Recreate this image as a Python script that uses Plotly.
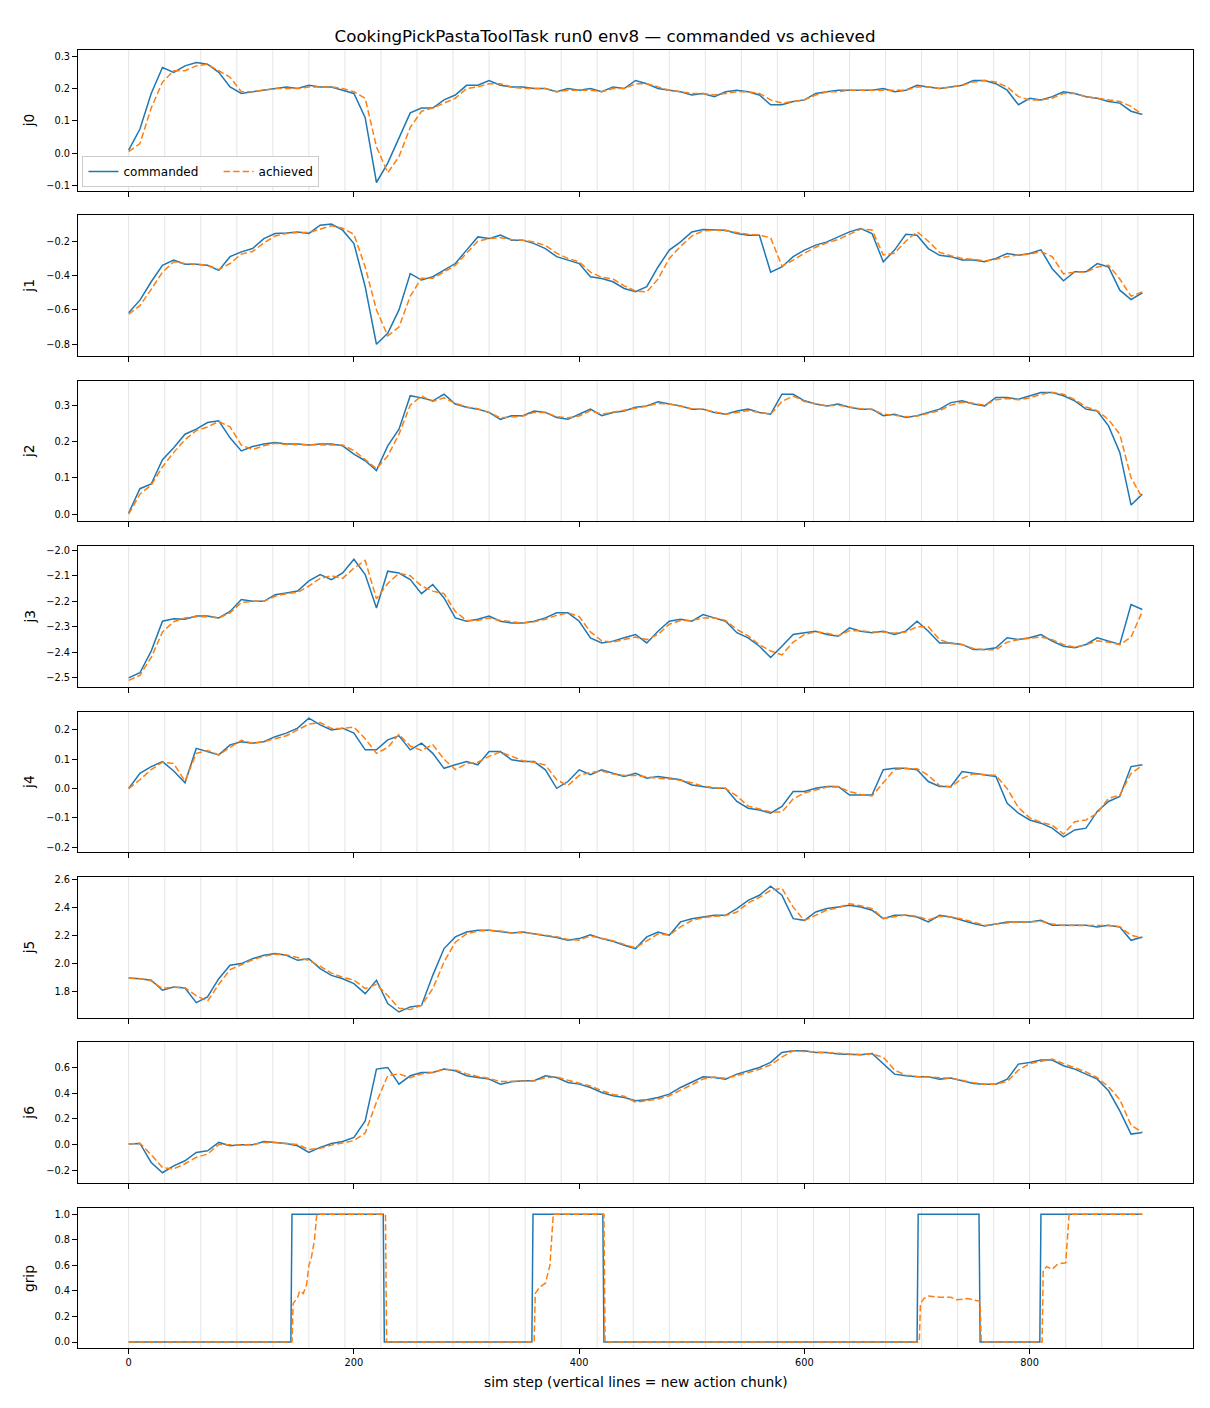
import plotly.graph_objects as go

# ---------------- data ----------------
steps = list(range(0, 901, 10))
chunk_starts = list(range(0, 897, 32))
joint_names = ["j0", "j1", "j2", "j3", "j4", "j5", "j6"]

j0_cmd = [0.01,0.075,0.185,0.265,0.25,0.27,0.28,0.275,0.25,0.205,
          0.185,0.19,0.195,0.20,0.205,0.20,0.21,0.205,0.205,0.195,
          0.185,0.11,-0.09,-0.03,0.05,0.125,0.14,0.14,0.165,0.18,
          0.21,0.21,0.225,0.21,0.205,0.205,0.2,0.2,0.19,0.2,
          0.195,0.2,0.19,0.205,0.2,0.225,0.215,0.2,0.195,0.19,
          0.18,0.185,0.175,0.19,0.195,0.19,0.18,0.15,0.15,0.16,
          0.165,0.185,0.19,0.195,0.195,0.195,0.195,0.2,0.19,0.195,
          0.21,0.205,0.2,0.205,0.21,0.225,0.225,0.215,0.195,0.15,
          0.17,0.165,0.175,0.19,0.185,0.175,0.17,0.16,0.155,0.13,
          0.12]
j0_ach = [0.005,0.03,0.14,0.22,0.255,0.255,0.27,0.275,0.255,0.235,
          0.19,0.19,0.195,0.2,0.2,0.2,0.205,0.205,0.205,0.2,
          0.19,0.17,0.02,-0.06,-0.01,0.08,0.13,0.14,0.155,0.17,
          0.2,0.205,0.215,0.215,0.205,0.2,0.2,0.2,0.19,0.195,
          0.195,0.195,0.19,0.2,0.2,0.215,0.215,0.205,0.195,0.19,
          0.185,0.185,0.18,0.185,0.19,0.19,0.185,0.165,0.155,0.16,
          0.165,0.18,0.19,0.19,0.195,0.195,0.195,0.195,0.195,0.195,
          0.205,0.205,0.2,0.205,0.21,0.22,0.225,0.22,0.205,0.175,
          0.165,0.165,0.17,0.185,0.185,0.175,0.17,0.165,0.16,0.145,
          0.12]

j1_cmd = [-0.616,-0.543,-0.436,-0.34,-0.31,-0.334,-0.334,-0.34,-0.37,-0.29,
          -0.262,-0.243,-0.185,-0.155,-0.152,-0.146,-0.155,-0.107,-0.1,-0.136,
          -0.214,-0.465,-0.80,-0.736,-0.60,-0.388,-0.426,-0.407,-0.368,-0.33,
          -0.252,-0.175,-0.185,-0.165,-0.194,-0.194,-0.214,-0.243,-0.29,-0.31,
          -0.33,-0.407,-0.417,-0.436,-0.475,-0.494,-0.465,-0.35,-0.252,-0.204,
          -0.146,-0.132,-0.136,-0.136,-0.155,-0.165,-0.165,-0.38,-0.35,-0.29,
          -0.252,-0.223,-0.204,-0.175,-0.146,-0.126,-0.155,-0.32,-0.252,-0.16,
          -0.165,-0.243,-0.282,-0.29,-0.31,-0.31,-0.32,-0.30,-0.272,-0.282,
          -0.272,-0.25,-0.36,-0.43,-0.378,-0.378,-0.33,-0.35,-0.485,-0.54,
          -0.50]
j1_ach = [-0.625,-0.575,-0.48,-0.38,-0.32,-0.33,-0.335,-0.34,-0.365,-0.33,
          -0.275,-0.26,-0.21,-0.17,-0.155,-0.15,-0.15,-0.13,-0.11,-0.125,
          -0.16,-0.35,-0.60,-0.75,-0.70,-0.52,-0.415,-0.415,-0.38,-0.34,
          -0.27,-0.2,-0.185,-0.18,-0.19,-0.195,-0.205,-0.225,-0.27,-0.3,
          -0.32,-0.38,-0.41,-0.42,-0.46,-0.49,-0.495,-0.42,-0.3,-0.23,
          -0.17,-0.14,-0.135,-0.14,-0.15,-0.16,-0.165,-0.18,-0.345,-0.31,
          -0.27,-0.235,-0.21,-0.19,-0.16,-0.13,-0.135,-0.28,-0.27,-0.2,
          -0.145,-0.2,-0.265,-0.285,-0.3,-0.305,-0.315,-0.305,-0.29,-0.28,
          -0.275,-0.26,-0.29,-0.39,-0.38,-0.38,-0.35,-0.34,-0.42,-0.52,
          -0.495]

j2_cmd = [0.003,0.07,0.083,0.15,0.183,0.22,0.234,0.252,0.257,0.21,
          0.174,0.186,0.193,0.197,0.193,0.193,0.19,0.193,0.193,0.188,
          0.165,0.147,0.12,0.188,0.234,0.326,0.32,0.312,0.33,0.303,
          0.294,0.289,0.28,0.261,0.271,0.271,0.284,0.28,0.266,0.261,
          0.275,0.289,0.271,0.28,0.284,0.294,0.298,0.309,0.303,0.298,
          0.289,0.289,0.28,0.275,0.284,0.289,0.28,0.275,0.33,0.33,
          0.312,0.303,0.298,0.303,0.294,0.289,0.289,0.271,0.275,0.266,
          0.271,0.28,0.289,0.307,0.312,0.303,0.298,0.321,0.321,0.316,
          0.326,0.335,0.335,0.326,0.312,0.289,0.284,0.243,0.17,0.025,
          0.055]
j2_ach = [0.0,0.055,0.08,0.13,0.17,0.205,0.23,0.24,0.255,0.24,
          0.19,0.178,0.188,0.195,0.192,0.192,0.19,0.192,0.192,0.19,
          0.175,0.15,0.125,0.16,0.22,0.30,0.325,0.31,0.32,0.305,
          0.295,0.29,0.28,0.265,0.268,0.27,0.28,0.28,0.268,0.265,
          0.27,0.285,0.275,0.28,0.285,0.29,0.297,0.305,0.303,0.297,
          0.29,0.288,0.282,0.275,0.28,0.285,0.28,0.275,0.31,0.325,
          0.31,0.303,0.298,0.3,0.295,0.29,0.288,0.275,0.272,0.268,
          0.27,0.278,0.285,0.3,0.308,0.305,0.3,0.315,0.318,0.315,
          0.32,0.33,0.335,0.33,0.315,0.295,0.285,0.26,0.22,0.1,
          0.045]

j3_cmd = [-2.50,-2.48,-2.395,-2.278,-2.268,-2.27,-2.258,-2.258,-2.265,-2.24,
          -2.193,-2.20,-2.20,-2.174,-2.167,-2.16,-2.12,-2.095,-2.115,-2.089,
          -2.035,-2.095,-2.226,-2.082,-2.089,-2.115,-2.17,-2.134,-2.187,-2.265,
          -2.278,-2.27,-2.258,-2.278,-2.285,-2.285,-2.278,-2.265,-2.245,-2.245,
          -2.278,-2.343,-2.363,-2.356,-2.343,-2.33,-2.363,-2.317,-2.278,-2.27,
          -2.278,-2.252,-2.265,-2.278,-2.323,-2.343,-2.376,-2.42,-2.376,-2.33,
          -2.323,-2.317,-2.33,-2.337,-2.304,-2.317,-2.323,-2.317,-2.33,-2.317,
          -2.278,-2.317,-2.363,-2.363,-2.369,-2.389,-2.389,-2.382,-2.343,-2.35,
          -2.343,-2.33,-2.356,-2.376,-2.382,-2.369,-2.343,-2.356,-2.369,-2.213,
          -2.232]
j3_ach = [-2.51,-2.49,-2.42,-2.32,-2.28,-2.265,-2.26,-2.26,-2.265,-2.245,
          -2.205,-2.2,-2.2,-2.18,-2.17,-2.165,-2.14,-2.11,-2.1,-2.11,
          -2.07,-2.04,-2.19,-2.13,-2.09,-2.1,-2.14,-2.16,-2.17,-2.24,
          -2.275,-2.275,-2.265,-2.275,-2.28,-2.285,-2.28,-2.27,-2.255,-2.245,
          -2.26,-2.32,-2.355,-2.36,-2.35,-2.34,-2.35,-2.33,-2.29,-2.275,
          -2.275,-2.265,-2.265,-2.275,-2.31,-2.335,-2.37,-2.395,-2.41,-2.36,
          -2.33,-2.32,-2.325,-2.335,-2.315,-2.315,-2.32,-2.32,-2.325,-2.32,
          -2.3,-2.3,-2.35,-2.365,-2.37,-2.385,-2.39,-2.39,-2.36,-2.35,
          -2.345,-2.34,-2.35,-2.37,-2.38,-2.37,-2.355,-2.36,-2.37,-2.34,
          -2.24]

j4_cmd = [0.0,0.052,0.075,0.092,0.06,0.02,0.137,0.126,0.115,0.149,
          0.16,0.155,0.16,0.177,0.189,0.206,0.24,0.217,0.2,0.206,
          0.189,0.132,0.132,0.166,0.18,0.132,0.155,0.12,0.069,0.081,
          0.092,0.081,0.126,0.126,0.098,0.092,0.092,0.064,0.001,0.024,
          0.064,0.047,0.064,0.052,0.041,0.052,0.035,0.041,0.035,0.03,
          0.012,0.007,0.001,0.001,-0.044,-0.067,-0.073,-0.084,-0.061,-0.01,
          -0.01,0.001,0.007,0.007,-0.022,-0.022,-0.022,0.064,0.069,0.069,
          0.064,0.024,0.007,0.007,0.058,0.052,0.047,0.041,-0.05,-0.084,
          -0.107,-0.118,-0.135,-0.165,-0.141,-0.135,-0.078,-0.044,-0.027,0.075,
          0.081]
j4_ach = [0.0,0.03,0.065,0.09,0.085,0.025,0.12,0.13,0.115,0.14,
          0.165,0.155,0.16,0.17,0.18,0.2,0.22,0.225,0.205,0.205,
          0.21,0.17,0.12,0.14,0.185,0.145,0.13,0.15,0.1,0.065,
          0.085,0.09,0.11,0.125,0.11,0.095,0.09,0.08,0.03,0.01,
          0.045,0.055,0.06,0.05,0.045,0.045,0.04,0.035,0.033,0.028,
          0.02,0.008,0.003,0.0,-0.025,-0.06,-0.07,-0.08,-0.08,-0.035,
          -0.015,-0.005,0.005,0.006,-0.01,-0.02,-0.025,0.02,0.065,0.068,
          0.068,0.045,0.01,0.005,0.035,0.05,0.048,0.045,0.0,-0.065,
          -0.1,-0.115,-0.125,-0.155,-0.113,-0.107,-0.084,-0.033,-0.022,0.052,
          0.078]

j5_cmd = [1.895,1.89,1.879,1.808,1.831,1.824,1.72,1.76,1.89,1.986,
          1.998,2.033,2.057,2.069,2.057,2.021,2.033,1.962,1.914,1.89,
          1.855,1.784,1.879,1.713,1.653,1.689,1.70,1.914,2.105,2.188,
          2.223,2.235,2.235,2.228,2.216,2.223,2.211,2.20,2.183,2.164,
          2.176,2.204,2.176,2.157,2.128,2.105,2.188,2.223,2.20,2.295,
          2.318,2.33,2.342,2.342,2.39,2.449,2.485,2.55,2.485,2.318,
          2.306,2.366,2.39,2.401,2.413,2.401,2.378,2.318,2.342,2.342,
          2.33,2.295,2.342,2.33,2.306,2.283,2.266,2.283,2.295,2.295,
          2.295,2.306,2.271,2.271,2.271,2.271,2.259,2.271,2.259,2.164,
          2.188]
j5_ach = [1.895,1.89,1.875,1.82,1.83,1.825,1.77,1.73,1.85,1.955,
          1.99,2.025,2.05,2.065,2.06,2.04,2.02,1.98,1.93,1.9,
          1.88,1.82,1.85,1.77,1.68,1.67,1.70,1.82,2.01,2.15,
          2.21,2.23,2.235,2.23,2.215,2.22,2.21,2.205,2.19,2.17,
          2.165,2.195,2.18,2.16,2.135,2.11,2.16,2.21,2.2,2.26,
          2.305,2.325,2.335,2.34,2.365,2.43,2.47,2.52,2.535,2.40,
          2.305,2.345,2.38,2.395,2.425,2.41,2.39,2.32,2.335,2.345,
          2.335,2.31,2.335,2.33,2.315,2.29,2.27,2.28,2.29,2.295,
          2.295,2.3,2.28,2.27,2.27,2.27,2.265,2.27,2.26,2.2,
          2.18]

j6_cmd = [0.003,0.008,-0.14,-0.22,-0.166,-0.127,-0.062,-0.049,0.016,-0.01,
          -0.003,-0.003,0.023,0.016,0.008,-0.01,-0.062,-0.023,0.008,0.023,
          0.055,0.184,0.587,0.60,0.47,0.535,0.561,0.561,0.587,0.574,
          0.535,0.522,0.509,0.47,0.488,0.496,0.496,0.535,0.522,0.483,
          0.47,0.444,0.405,0.379,0.366,0.34,0.348,0.366,0.392,0.444,
          0.483,0.527,0.522,0.509,0.548,0.574,0.60,0.639,0.717,0.73,
          0.73,0.717,0.717,0.704,0.699,0.699,0.709,0.626,0.548,0.535,
          0.527,0.527,0.509,0.517,0.496,0.475,0.47,0.47,0.509,0.626,
          0.639,0.657,0.657,0.613,0.587,0.548,0.509,0.418,0.262,0.081,
          0.094]
j6_ach = [0.003,0.01,-0.08,-0.18,-0.19,-0.15,-0.1,-0.075,0.0,-0.005,
          -0.005,0.0,0.015,0.015,0.01,0.0,-0.04,-0.03,-0.005,0.015,
          0.03,0.09,0.33,0.535,0.55,0.52,0.55,0.56,0.585,0.58,
          0.55,0.53,0.515,0.49,0.49,0.495,0.495,0.52,0.525,0.5,
          0.475,0.455,0.42,0.39,0.375,0.33,0.34,0.355,0.38,0.42,
          0.465,0.51,0.525,0.515,0.535,0.56,0.585,0.62,0.68,0.73,
          0.725,0.72,0.715,0.705,0.7,0.7,0.705,0.68,0.58,0.54,
          0.53,0.525,0.515,0.515,0.5,0.48,0.47,0.47,0.49,0.58,
          0.63,0.65,0.665,0.63,0.6,0.565,0.52,0.45,0.35,0.15,
          0.095]

grip_cmd_steps = [0,144,145,226,227,358,359,421,422,700,701,755,756,809,810,900]
grip_cmd = [0,0,1,1,0,0,1,1,0,0,1,1,0,0,1,1]
grip_ach_steps = [0,145,146,150,152,155,158,160,162,165,167,228,229,
                  359,360,361,365,370,374,377,422,423,
                  701,702,703,706,710,720,730,735,745,755,756,757,
                  810,811,812,815,820,825,832,835,900]
grip_ach = [0,0,0.3,0.35,0.4,0.38,0.45,0.6,0.65,0.8,1.0,1.0,0,
            0,0,0.38,0.43,0.46,0.6,1.0,1.0,0,
            0,0,0.3,0.34,0.36,0.35,0.35,0.33,0.34,0.32,0.3,0,
            0,0,0.56,0.59,0.57,0.61,0.62,1.0,1.0]

y_ranges = [[-0.115, 0.319], [-0.868, -0.05], [-0.02, 0.367], [-2.535, -1.984],
            [-0.217, 0.2625], [1.613, 2.615], [-0.30, 0.795], [-0.05, 1.05]]
y_dticks = [0.1, 0.2, 0.1, 0.1, 0.1, 0.2, 0.2, 0.2]
x_ticks = [0, 200, 400, 600, 800]

title_text = "CookingPickPastaToolTask run0 env8 \u2014 commanded vs achieved"
x_label = "sim step (vertical lines = new action chunk)"
panel_labels = joint_names + ["grip"]
series_names = ["commanded", "achieved"]

# ---------------- figure ----------------
W, H = 1210, 1408
ML, MR, MT, MB = 78, 17, 50, 59
PH = H - MT - MB
panel_h, panel_step = 140.6, 165.4
BLUE, ORANGE = "#1f77b4", "#ff7f0e"
FONT = "DejaVu Sans"
TICK_FONT = dict(family=FONT, size=9.8, color="black")
LABEL_FONT = dict(family=FONT, size=13.8, color="black")

cmd_series = [j0_cmd, j1_cmd, j2_cmd, j3_cmd, j4_cmd, j5_cmd, j6_cmd]
ach_series = [j0_ach, j1_ach, j2_ach, j3_ach, j4_ach, j5_ach, j6_ach]

fig = go.Figure()
layout = {}
shapes = []
annotations = []

for i in range(8):
    n = "" if i == 0 else str(i + 1)
    xa, ya = "x" + n, "y" + n
    top = MT + i * panel_step
    bot = top + panel_h
    dom = [1 - (bot - MT) / PH, 1 - (top - MT) / PH]
    if i < 7:
        xs_c, ys_c, xs_a, ys_a = steps, cmd_series[i], steps, ach_series[i]
    else:
        xs_c, ys_c, xs_a, ys_a = grip_cmd_steps, grip_cmd, grip_ach_steps, grip_ach
    # trailing no-break spaces only widen the gap between the two legend entries
    fig.add_trace(go.Scatter(x=xs_c, y=ys_c, mode="lines",
                             name=series_names[0] + "\u00a0" * 4,
                             line=dict(color=BLUE, width=1.5),
                             xaxis=xa, yaxis=ya, showlegend=(i == 0)))
    fig.add_trace(go.Scatter(x=xs_a, y=ys_a, mode="lines", name=series_names[1],
                             line=dict(color=ORANGE, width=1.5, dash="6.5px,3px"),
                             xaxis=xa, yaxis=ya, showlegend=(i == 0)))
    layout["xaxis" + n] = dict(domain=[0, 1], range=[-45, 945], anchor=ya,
                               tickvals=x_ticks, showticklabels=(i == 7),
                               ticks="outside", ticklen=5, tickcolor="black",
                               showline=True, mirror=True, linecolor="black", linewidth=1,
                               showgrid=False, zeroline=False, tickfont=TICK_FONT,
                               **({} if i == 0 else {"matches": "x"}))
    layout["yaxis" + n] = dict(domain=dom, range=y_ranges[i], anchor=xa,
                               dtick=y_dticks[i], tick0=0, tickformat=".1f",
                               ticks="outside", ticklen=5, tickcolor="black",
                               showline=True, mirror=True, linecolor="black", linewidth=1,
                               showgrid=False, zeroline=False, tickfont=TICK_FONT)
    for c in chunk_starts:
        shapes.append(dict(type="line", xref=xa, yref=ya + " domain",
                           x0=c, x1=c, y0=0, y1=1, layer="below",
                           line=dict(color="#dddddd", width=0.8)))
    annotations.append(dict(text=panel_labels[i], xref="paper", yref="paper",
                            x=(29 - ML) / (W - ML - MR), y=(dom[0] + dom[1]) / 2,
                            textangle=-90, showarrow=False, xanchor="center", yanchor="middle",
                            font=LABEL_FONT))

annotations.append(dict(text=x_label, xref="paper", yref="paper",
                        x=0.5, y=1 - (1382 - MT) / PH, showarrow=False,
                        xanchor="center", yanchor="middle", font=LABEL_FONT))

fig.update_layout(
    width=W, height=H,
    margin=dict(l=ML, r=MR, t=MT, b=MB),
    paper_bgcolor="white", plot_bgcolor="white",
    title=dict(text=title_text, x=0.5, xref="container", y=1 - 36 / H, yref="container",
               xanchor="center", yanchor="middle",
               font=dict(family=FONT, size=16.7, color="black")),
    legend=dict(orientation="h", x=0.004, y=1 - (187 - MT) / PH, xanchor="left", yanchor="bottom",
                bgcolor="rgba(255,255,255,0.85)", bordercolor="#cccccc", borderwidth=1,
                font=dict(family=FONT, size=12, color="black")),
    shapes=shapes, annotations=annotations,
    showlegend=True,
    **layout,
)

fig.write_html("out.html", config={"displayModeBar": False},
               post_script="document.body.style.margin='0px';")
